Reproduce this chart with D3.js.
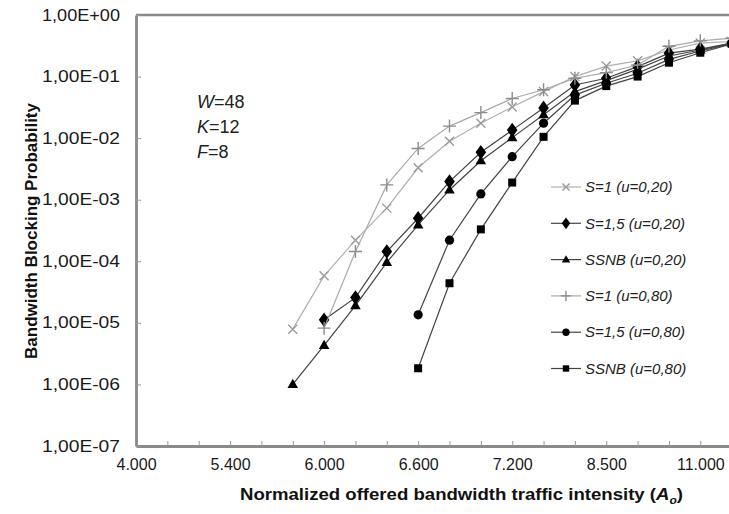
<!DOCTYPE html>
<html>
<head>
<meta charset="utf-8">
<script src="https://cdnjs.cloudflare.com/ajax/libs/d3/7.8.5/d3.min.js"></script>
<style>
  body { margin: 0; background: #fff; }
  svg { display: block; font-family: "Liberation Sans", Arial, sans-serif; }
</style>
</head>
<body>
<div id="chart"></div>
<script>
// categories on the x axis (only every third one is labelled)
var categories = ["4.000", "4.500", "5.000", "5.400", "5.600", "5.800", "6.000", "6.200", "6.400", "6.600",
                  "6.800", "7.000", "7.200", "7.600", "8.000", "8.500", "9.000", "10.000", "11.000", "12.000"];
var yTicks = [1, 1e-1, 1e-2, 1e-3, 1e-4, 1e-5, 1e-6, 1e-7];

// blocking probability per category, null where no point is drawn
var s1u20   = [null, null, null, null, null, 7.9e-6, 5.8e-5, 2.2e-4, 7.3e-4, 3.3e-3, 8.9e-3, 1.74e-2, 3.2e-2, 5.7e-2, 1.0e-1, 0.148, 0.18, 0.27, 0.35, 0.37];
var s15u20  = [null, null, null, null, null, null, 1.12e-5, 2.57e-5, 1.44e-4, 5.0e-4, 1.97e-3, 5.9e-3, 1.35e-2, 3.1e-2, 7.3e-2, 0.094, 0.145, 0.24, 0.28, 0.35];
var ssnbu20 = [null, null, null, null, null, 1.0e-6, 4.3e-6, 1.9e-5, 9.6e-5, 3.9e-4, 1.44e-3, 4.3e-3, 1.02e-2, 2.4e-2, 5.7e-2, 0.086, 0.132, 0.216, 0.27, 0.35];
var s1u80   = [null, null, null, null, null, null, 8.2e-6, 1.44e-4, 1.74e-3, 6.8e-3, 1.57e-2, 2.6e-2, 4.4e-2, 6.1e-2, 9.4e-2, 0.116, 0.154, 0.31, 0.38, 0.42];
var s15u80  = [null, null, null, null, null, null, null, null, null, 1.35e-5, 2.2e-4, 1.24e-3, 5.0e-3, 1.75e-2, 5.0e-2, 0.078, 0.113, 0.19, 0.26, 0.34];
var ssnbu80 = [null, null, null, null, null, null, null, null, null, 1.83e-6, 4.4e-5, 3.3e-4, 1.9e-3, 1.05e-2, 4.07e-2, 0.070, 0.10, 0.168, 0.244, 0.34];

var series = [
  { name: "S=1 (u=0,20)",   values: s1u20,   color: "#9a9a9a", line: "#b0b0b0", marker: "x" },
  { name: "S=1,5 (u=0,20)", values: s15u20,  color: "#000",    line: "#444",    marker: "diamond" },
  { name: "SSNB (u=0,20)",  values: ssnbu20, color: "#000",    line: "#444",    marker: "triangle" },
  { name: "S=1 (u=0,80)",   values: s1u80,   color: "#8c8c8c", line: "#aaaaaa", marker: "plus" },
  { name: "S=1,5 (u=0,80)", values: s15u80,  color: "#000",    line: "#444",    marker: "circle" },
  { name: "SSNB (u=0,80)",  values: ssnbu80, color: "#000",    line: "#444",    marker: "square" }
];

var width = 729, height = 514;
var margin = { left: 136, top: 15, bottom: 68 };
var step = 31.35;

var svg = d3.select("#chart").append("svg")
  .attr("width", width)
  .attr("height", height);

var x = d3.scalePoint()
  .domain(categories)
  .range([margin.left, margin.left + step * (categories.length - 1)]);

var y = d3.scaleLog()
  .domain([1e-7, 1])
  .range([height - margin.bottom, margin.top]);

var fmt = function(v) {
  var e = Math.round(Math.log10(v));
  return "1,00E" + (e < 0 ? "-" : "+") + String(Math.abs(e)).padStart(2, "0");
};

// plot frame (top border, right side is cut off)
svg.append("line")
  .attr("x1", margin.left).attr("x2", width + 5)
  .attr("y1", margin.top).attr("y2", margin.top)
  .attr("stroke", "#8a8a8a").attr("stroke-width", 2.5);

var xAxis = svg.append("g")
  .attr("transform", "translate(0," + (height - margin.bottom) + ")")
  .call(d3.axisBottom(x)
    .tickSizeInner(-5).tickSizeOuter(0).tickPadding(13)
    .tickFormat(function(d, i) { return i % 3 == 0 ? d : ""; }));

var yAxis = svg.append("g")
  .attr("transform", "translate(" + margin.left + ",0)")
  .call(d3.axisLeft(y)
    .tickValues(yTicks)
    .tickSizeInner(-5).tickSizeOuter(0).tickPadding(16)
    .tickFormat(fmt));

[xAxis, yAxis].forEach(function(g) {
  g.select(".domain").attr("stroke", "#8a8a8a").attr("stroke-width", 2.8);
  g.selectAll(".tick line").attr("stroke", "#999");
  g.selectAll(".tick text")
    .attr("fill", "#1a1a1a")
    .attr("font-size", "16px")
    .attr("font-family", "Liberation Sans, Arial, sans-serif");
});
yAxis.selectAll(".tick text").attr("textLength", 78).attr("lengthAdjust", "spacingAndGlyphs");

// marker shapes
function marker(g, type, color, s) {
  s = s || 1;
  if (type == "x") {
    var r = 4.5 * s;
    g.append("path").attr("d", "M" + -r + "," + -r + "L" + r + "," + r + "M" + -r + "," + r + "L" + r + "," + -r)
      .attr("stroke", color).attr("stroke-width", 1.4).attr("fill", "none");
  } else if (type == "plus") {
    var p = 6.5 * s;
    g.append("path").attr("d", "M" + -p + ",0H" + p + "M0," + -p + "V" + p)
      .attr("stroke", color).attr("stroke-width", 1.4).attr("fill", "none");
  } else if (type == "diamond") {
    g.append("path").attr("d", d3.symbol(d3.symbolDiamond, 62 * s * s)).attr("fill", color)
      .attr("transform", "scale(1.25,1)");
  } else if (type == "triangle") {
    g.append("path").attr("d", d3.symbol(d3.symbolTriangle, 48 * s * s)).attr("fill", color)
      .attr("transform", "translate(0,0.5)");
  } else if (type == "circle") {
    g.append("circle").attr("r", 4.6 * s).attr("fill", color);
  } else if (type == "square") {
    g.append("rect").attr("x", -4 * s).attr("y", -4 * s).attr("width", 8 * s).attr("height", 8 * s).attr("fill", color);
  }
}

var line = d3.line()
  .defined(function(d) { return d.v != null; })
  .x(function(d) { return x(d.c); })
  .y(function(d) { return y(d.v); });

series.forEach(function(s) {
  var pts = categories.map(function(c, i) { return { c: c, v: s.values[i] }; });
  svg.append("path")
    .datum(pts)
    .attr("d", line)
    .attr("fill", "none")
    .attr("stroke", s.line)
    .attr("stroke-width", 1.2);
  pts.filter(function(d) { return d.v != null; }).forEach(function(d) {
    var g = svg.append("g").attr("transform", "translate(" + x(d.c) + "," + y(d.v) + ")");
    marker(g, s.marker, s.color);
  });
});

// legend
var legend = svg.append("g").attr("transform", "translate(551,187)");
series.forEach(function(s, i) {
  var g = legend.append("g").attr("transform", "translate(0," + (i * 36.3) + ")");
  g.append("line").attr("x1", 0).attr("x2", 30).attr("stroke", s.line).attr("stroke-width", 1.2);
  marker(g.append("g").attr("transform", "translate(15,0)"), s.marker, s.color, 0.8);
  g.append("text")
    .attr("x", 34).attr("dy", "0.35em")
    .attr("font-size", "15px").attr("font-style", "italic")
    .attr("fill", "#222")
    .text(s.name);
});

// parameters
var params = [["W", "=48"], ["K", "=12"], ["F", "=8"]];
params.forEach(function(p, i) {
  var t = svg.append("text")
    .attr("x", 197).attr("y", 108 + i * 25)
    .attr("font-size", "18px").attr("fill", "#222");
  t.append("tspan").attr("font-style", "italic").text(p[0]);
  t.append("tspan").text(p[1]);
});

// axis titles
var xt = svg.append("text")
  .attr("x", 240).attr("y", 500)
  .attr("textLength", 443).attr("lengthAdjust", "spacingAndGlyphs")
  .attr("font-size", "17px").attr("font-weight", "bold").attr("fill", "#111");
xt.append("tspan").text("Normalized offered bandwidth traffic intensity (");
xt.append("tspan").attr("font-style", "italic").text("A");
xt.append("tspan").attr("font-style", "italic").attr("font-size", "11px").attr("dy", 4).text("o");
xt.append("tspan").attr("dy", -4).text(")");

svg.append("text")
  .attr("transform", "translate(37,231) rotate(-90)")
  .attr("text-anchor", "middle")
  .attr("font-size", "17px").attr("font-weight", "bold").attr("fill", "#111")
  .text("Bandwidth Blocking Probability");
</script>
</body>
</html>
